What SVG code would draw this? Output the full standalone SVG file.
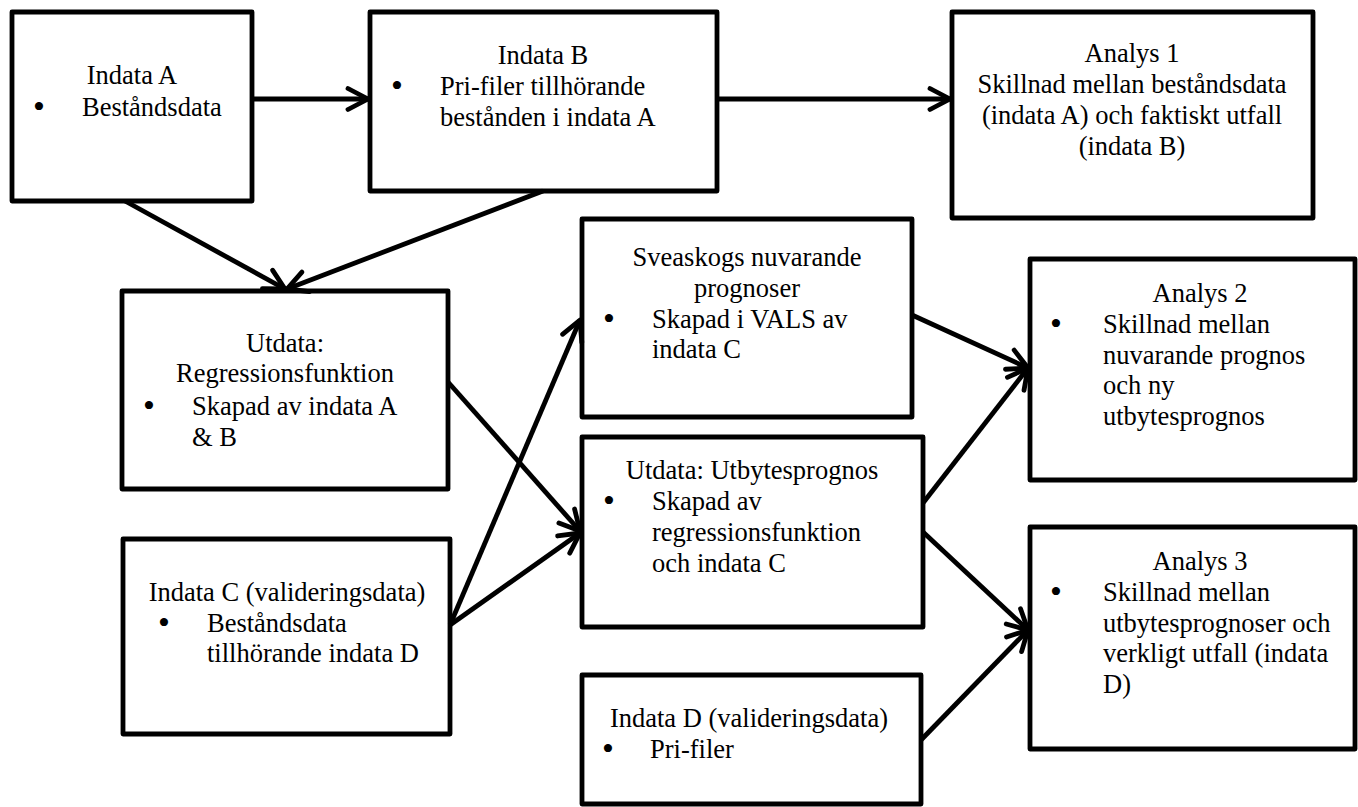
<svg xmlns="http://www.w3.org/2000/svg" width="1358" height="807" viewBox="0 0 1358 807">
<style>
.box{fill:#fff;stroke:#000;stroke-width:4.8;stroke-linejoin:round}
.t{font-family:"Liberation Serif","Times New Roman",serif;font-size:26.5px;fill:#000}
.c{text-anchor:middle}
.b{text-anchor:middle;font-size:34px}
.con line{stroke:#000;stroke-width:4.8;marker-end:url(#arr)}
</style>
<defs>
<marker id="arr" markerUnits="userSpaceOnUse" viewBox="-28 -16 32 32" markerWidth="32" markerHeight="32" refX="0" refY="0" orient="auto">
<path d="M-20,-10.5 L0,0 L-20,10.5" fill="none" stroke="#000" stroke-width="4.8" stroke-linecap="round" stroke-linejoin="round"/>
</marker>
</defs>
<rect width="1358" height="807" fill="#fff"/>
<g id="indataA">
<rect class="box" x="12" y="12" width="240" height="189"/>
<text class="t c" x="132" y="84">Indata A</text>
<text class="t b" x="39" y="118">•</text>
<text class="t" x="82" y="116">Beståndsdata</text>
</g>
<g id="indataB">
<rect class="box" x="370" y="12" width="347" height="179"/>
<text class="t c" x="543" y="64">Indata B</text>
<text class="t b" x="397" y="97">•</text>
<text class="t" x="440" y="95">Pri-filer tillhörande</text>
<text class="t" x="440" y="126">bestånden i indata A</text>
</g>
<g id="analys1">
<rect class="box" x="952" y="12" width="361" height="206"/>
<text class="t c" x="1132" y="62">Analys 1</text>
<text class="t c" x="1132" y="93">Skillnad mellan beståndsdata</text>
<text class="t c" x="1132" y="124">(indata A) och faktiskt utfall</text>
<text class="t c" x="1132" y="155">(indata B)</text>
</g>
<g id="regression">
<rect class="box" x="122" y="291" width="326" height="198"/>
<text class="t c" x="285" y="352">Utdata:</text>
<text class="t c" x="285" y="382">Regressionsfunktion</text>
<text class="t b" x="149" y="417">•</text>
<text class="t" x="192" y="415">Skapad av indata A</text>
<text class="t" x="192" y="446">&amp; B</text>
</g>
<g id="sveaskog">
<rect class="box" x="582" y="219" width="330" height="198"/>
<text class="t c" x="747" y="266">Sveaskogs nuvarande</text>
<text class="t c" x="747" y="297">prognoser</text>
<text class="t b" x="609" y="330">•</text>
<text class="t" x="652" y="328">Skapad i VALS av</text>
<text class="t" x="652" y="358">indata C</text>
</g>
<g id="utbytesprognos">
<rect class="box" x="582" y="437" width="341" height="190"/>
<text class="t c" x="752" y="479">Utdata: Utbytesprognos</text>
<text class="t b" x="609" y="512">•</text>
<text class="t" x="652" y="510">Skapad av</text>
<text class="t" x="652" y="541">regressionsfunktion</text>
<text class="t" x="652" y="572">och indata C</text>
</g>
<g id="indataC">
<rect class="box" x="123" y="539" width="327" height="195"/>
<text class="t c" x="287" y="601">Indata C (valideringsdata)</text>
<text class="t b" x="164" y="634">•</text>
<text class="t" x="207" y="632">Beståndsdata</text>
<text class="t" x="207" y="662">tillhörande indata D</text>
</g>
<g id="indataD">
<rect class="box" x="582" y="675" width="339" height="129"/>
<text class="t c" x="749" y="727">Indata D (valideringsdata)</text>
<text class="t b" x="608" y="760">•</text>
<text class="t" x="650" y="758">Pri-filer</text>
</g>
<g id="analys2">
<rect class="box" x="1030" y="259" width="325" height="221"/>
<text class="t c" x="1200" y="302">Analys 2</text>
<text class="t b" x="1056" y="335">•</text>
<text class="t" x="1103" y="333">Skillnad mellan</text>
<text class="t" x="1103" y="364">nuvarande prognos</text>
<text class="t" x="1103" y="394">och ny</text>
<text class="t" x="1103" y="425">utbytesprognos</text>
</g>
<g id="analys3">
<rect class="box" x="1030" y="527" width="325" height="222"/>
<text class="t c" x="1200" y="570">Analys 3</text>
<text class="t b" x="1056" y="603">•</text>
<text class="t" x="1103" y="601">Skillnad mellan</text>
<text class="t" x="1103" y="632">utbytesprognoser och</text>
<text class="t" x="1103" y="662">verkligt utfall (indata</text>
<text class="t" x="1103" y="693">D)</text>
</g>
<g id="connectors" class="con">
<line x1="252" y1="99" x2="368" y2="99"/>
<line x1="717" y1="99" x2="950" y2="99"/>
<line x1="125" y1="201" x2="285" y2="289"/>
<line x1="543" y1="191" x2="287" y2="289"/>
<line x1="448" y1="382" x2="580" y2="531"/>
<line x1="450" y1="625" x2="580" y2="320"/>
<line x1="450" y1="625" x2="580" y2="533"/>
<line x1="912" y1="315" x2="1028" y2="368"/>
<line x1="923" y1="503" x2="1028" y2="368"/>
<line x1="923" y1="532" x2="1028" y2="630"/>
<line x1="921" y1="740" x2="1028" y2="630"/>
</g>
</svg>
